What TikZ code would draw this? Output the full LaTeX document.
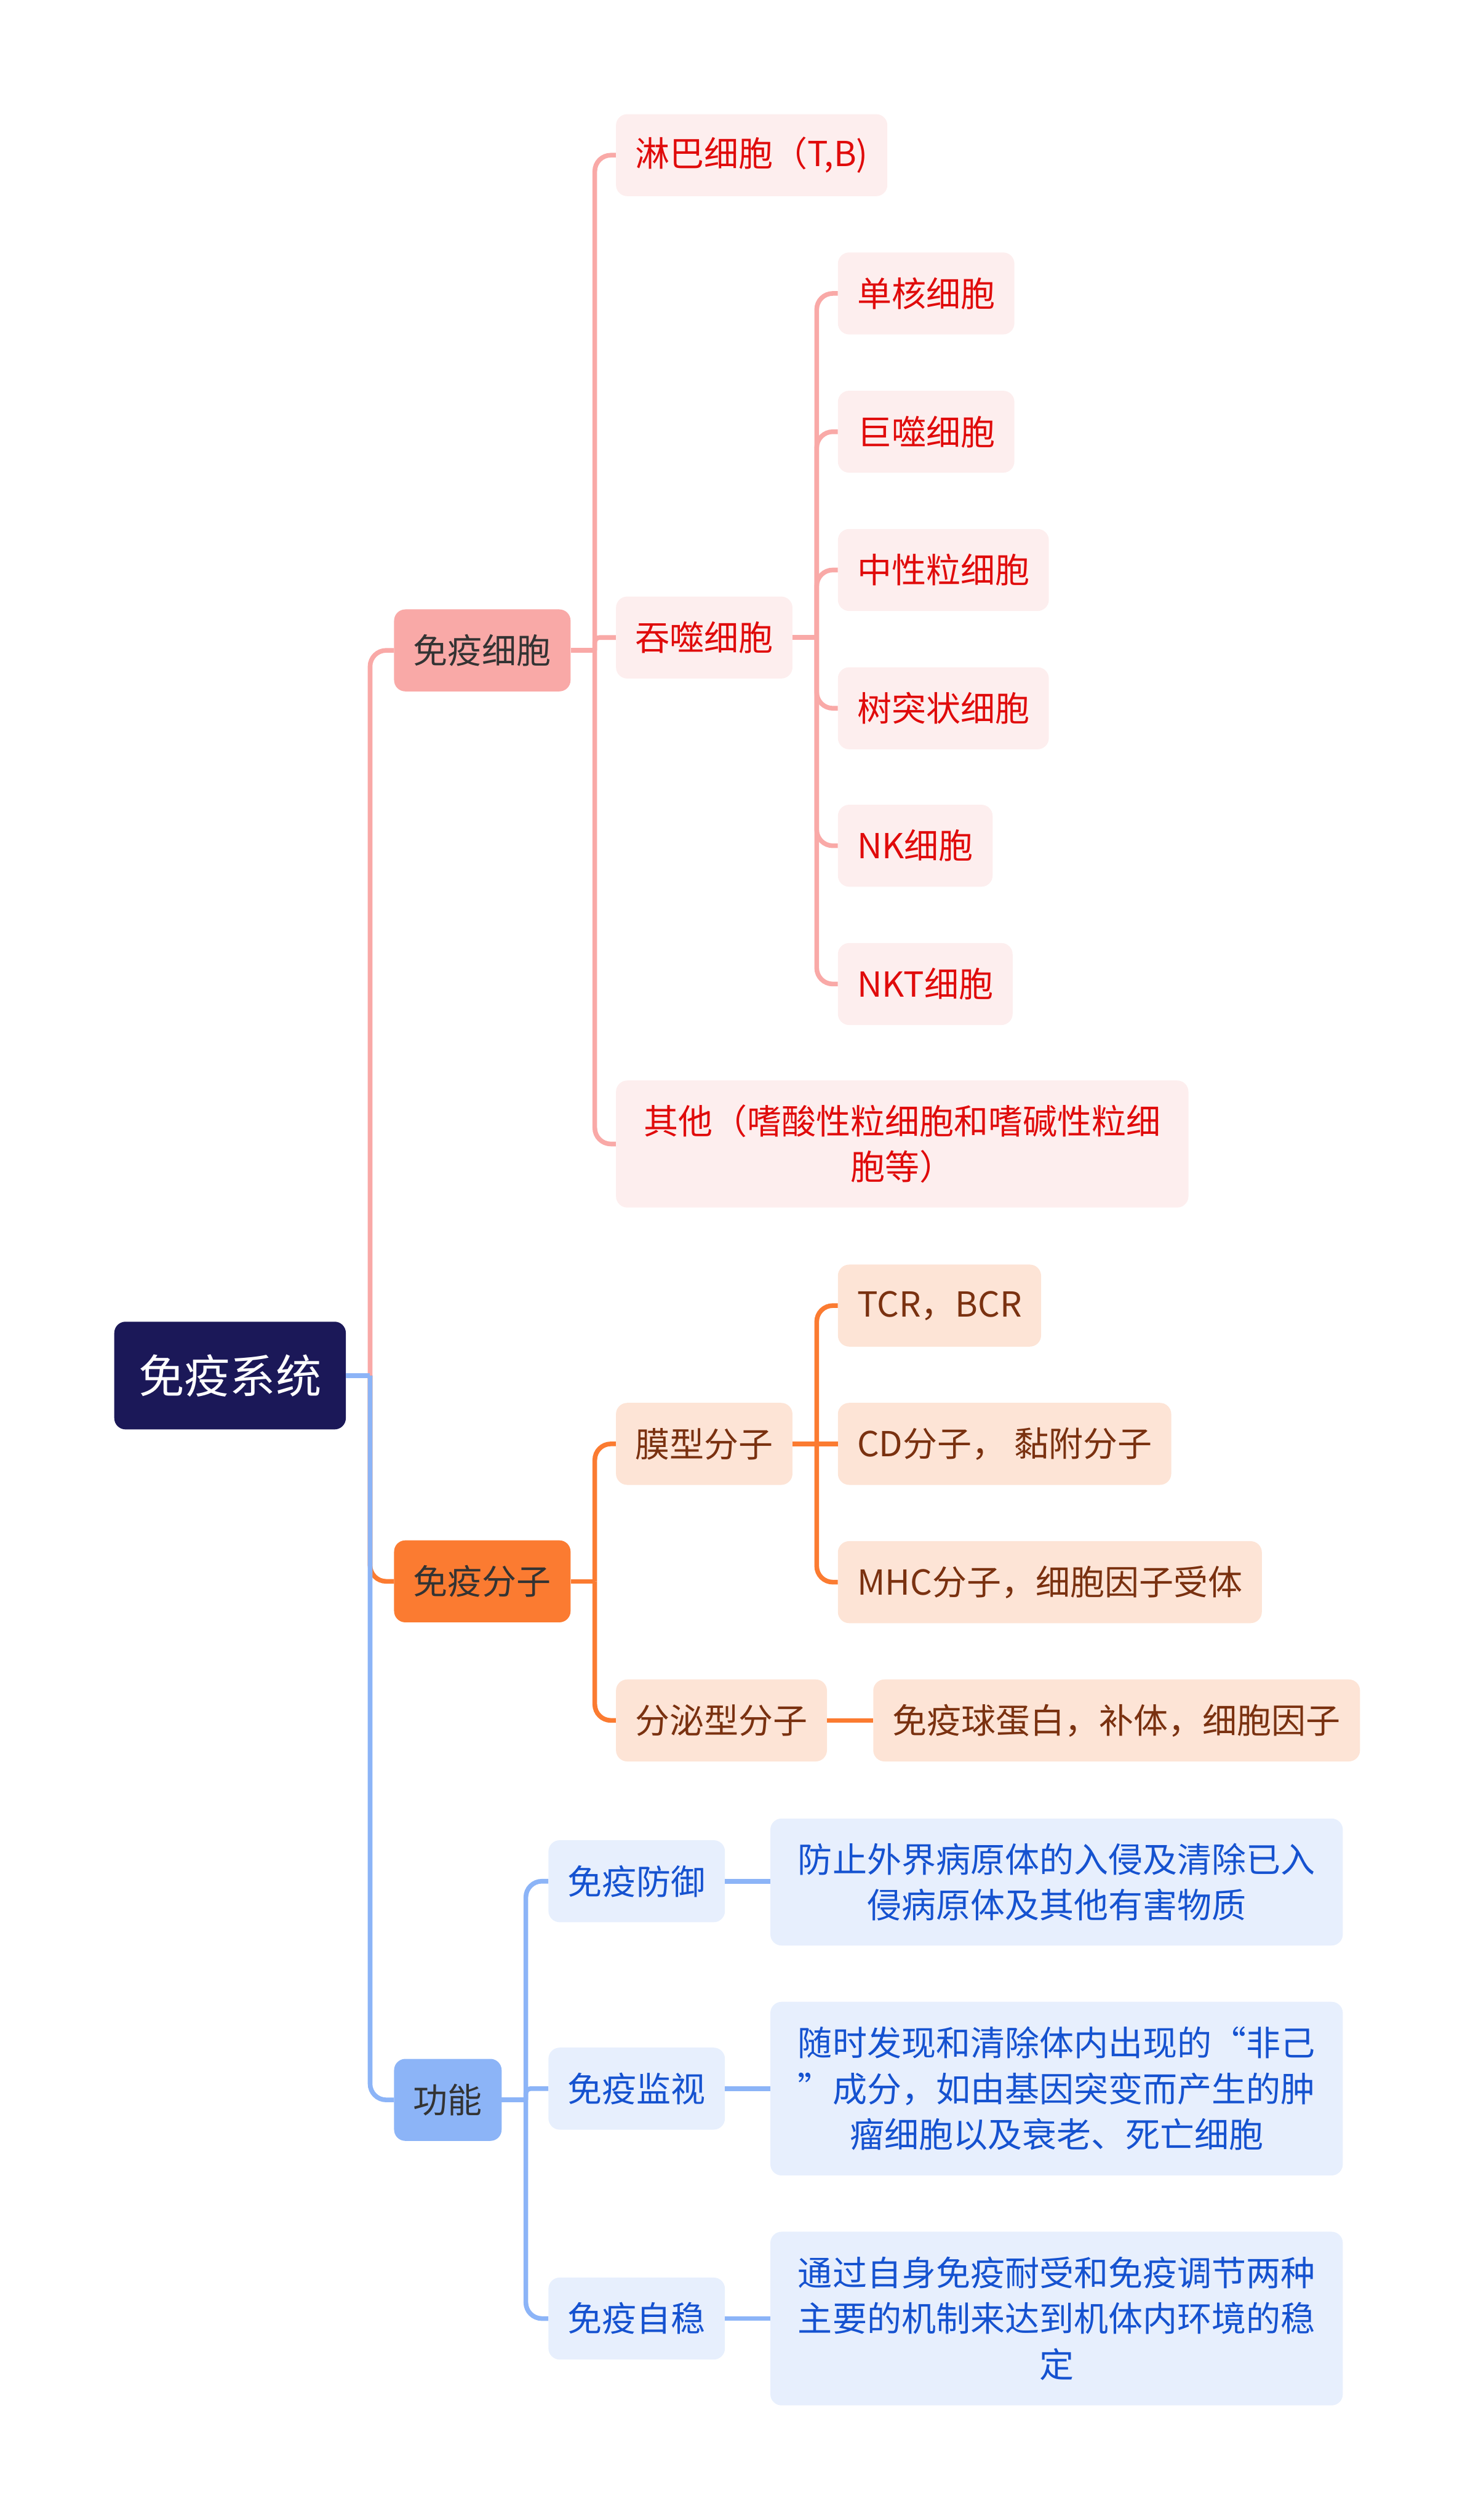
\documentclass[tikz,border=0pt]{standalone}
\usepackage{fontspec}
\setmainfont{Noto Sans CJK SC}
\usepackage{tikz}
\usetikzlibrary{positioning,calc}
\definecolor{navy}{HTML}{1B1858}
\definecolor{rose}{HTML}{F9A9A7}
\definecolor{roselight}{HTML}{FDEEEE}
\definecolor{rosetext}{HTML}{E00B0B}
\definecolor{amber}{HTML}{FB7B31}
\definecolor{amberlight}{HTML}{FDE4D6}
\definecolor{ambertext}{HTML}{7A3110}
\definecolor{sky}{HTML}{8CB4F7}
\definecolor{skylight}{HTML}{E7EFFD}
\definecolor{skytext}{HTML}{1552D0}
\definecolor{ink}{HTML}{333333}

\tikzset{
  box/.style={rounded corners=7mm, inner xsep=12mm, inner ysep=0pt, minimum height=51mm,
    anchor=west, align=center, font=\fontsize{61}{81}\selectfont},
  rootbox/.style={box, fill=navy, text=white, minimum width=144mm, minimum height=67mm,
    font=\fontsize{81}{100}\selectfont},
  rosemain/.style={box, fill=rose, text=ink},
  rosesub/.style={box, fill=roselight, text=rosetext},
  ambermain/.style={box, fill=amber, text=ink},
  ambersub/.style={box, fill=amberlight, text=ambertext},
  skymain/.style={box, fill=sky, text=ink},
  skysub/.style={box, fill=skylight, text=skytext},
  widebox/.style={minimum width=356mm},
  link/.style={line width=2.9mm, rounded corners=10mm},
}

\begin{document}
\begin{tikzpicture}[x=1mm,y=-1mm]
  \useasboundingbox (0,0) rectangle (916,1567.3);

  % root and main branches
  \node[rootbox] (root) at (71,855.5) {免疫系统};
  \node[rosemain] (cell) at (245,404.5) {免疫细胞};
  \node[ambermain] (mol) at (245,983.5) {免疫分子};
  \node[skymain] (func) at (245,1306) {功能};

  % immune cells
  \node[rosesub] (lym) at (383,96.5) {淋巴细胞（T,B)};
  \node[rosesub] (pha) at (383,396.5) {吞噬细胞};
  \node[rosesub,widebox,minimum height=79mm] (oth) at (383,711.5)
    {其他（嗜酸性粒细胞和嗜碱性粒细\\胞等）};
  \node[rosesub] (mono) at (521,182.5) {单核细胞};
  \node[rosesub] (macro) at (521,268.5) {巨噬细胞};
  \node[rosesub] (neu) at (521,354.5) {中性粒细胞};
  \node[rosesub] (dc) at (521,440.5) {树突状细胞};
  \node[rosesub] (nk) at (521,526) {NK细胞};
  \node[rosesub] (nkt) at (521,612) {NKT细胞};

  % immune molecules
  \node[ambersub] (mem) at (383,898) {膜型分子};
  \node[ambersub] (sec) at (383,1070) {分泌型分子};
  \node[ambersub] (tcr) at (521,812) {TCR，BCR};
  \node[ambersub] (cd) at (521,898) {CD分子， 黏附分子};
  \node[ambersub] (mhc) at (521,984) {MHC分子，细胞因子受体};
  \node[ambersub] (ig) at (543,1070) {免疫球蛋白，补体，细胞因子};

  % functions
  \node[skysub] (def) at (341,1170) {免疫防御};
  \node[skysub] (sur) at (341,1299) {免疫监视};
  \node[skysub] (hom) at (341,1442) {免疫自稳};
  \node[skysub,widebox,minimum height=79mm] (defd) at (479,1170.5)
    {防止外界病原体的入侵及清除已入\\侵病原体及其他有害物质};
  \node[skysub,widebox,minimum height=108mm] (surd) at (479,1299)
    {随时发现和清除体内出现的“非己\\”成分，如由基因突变而产生的肿\\瘤细胞以及衰老、死亡细胞};
  \node[skysub,widebox,minimum height=108mm] (homd) at (479,1442)
    {通过自身免疫耐受和免疫调节两种\\主要的机制来达到机体内环境的稳\\定};

  % bus points
  \coordinate (rootbus) at ([xshift=15mm]root.east);
  \coordinate (cellbus) at ([xshift=15mm]cell.east);
  \coordinate (phabus) at ([xshift=15mm]pha.east);
  \coordinate (molbus) at ([xshift=15mm]mol.east);
  \coordinate (membus) at ([xshift=15mm]mem.east);
  \coordinate (funcbus) at ([xshift=15mm]func.east);

  % immune cell links
  \draw[link,rose] (rootbus) |- (cell.west);
  \draw[link,rose] (cell.east) -- (cellbus);
  \foreach \c in {lym,oth}
    \draw[link,rose] (cellbus) |- (\c.west);
  \draw[link,rose,rounded corners=3mm] (cellbus) |- (pha.west);
  \draw[link,rose] (pha.east) -- (phabus);
  \foreach \c in {mono,macro,neu,dc,nk,nkt}
    \draw[link,rose] (phabus) |- (\c.west);

  % immune molecule links
  \draw[link,amber] (rootbus) |- (mol.west);
  \draw[link,amber] (mol.east) -- (molbus);
  \foreach \c in {mem,sec}
    \draw[link,amber] (molbus) |- (\c.west);
  \draw[link,amber] (mem.east) -- (cd.west);
  \foreach \c in {tcr,mhc}
    \draw[link,amber] (membus) |- (\c.west);
  \draw[link,amber] (sec.east) -- (ig.west);

  % function links
  \draw[link,sky] (root.east) -- (rootbus);
  \draw[link,sky] (rootbus) |- (func.west);
  \draw[link,sky] (func.east) -- (funcbus);
  \foreach \c in {def,hom}
    \draw[link,sky] (funcbus) |- (\c.west);
  \draw[link,sky,rounded corners=3mm] (funcbus) |- (sur.west);
  \draw[link,sky] (def.east) -- (def.east -| defd.west);
  \draw[link,sky] (sur.east) -- (surd.west);
  \draw[link,sky] (hom.east) -- (homd.west);
\end{tikzpicture}
\end{document}
